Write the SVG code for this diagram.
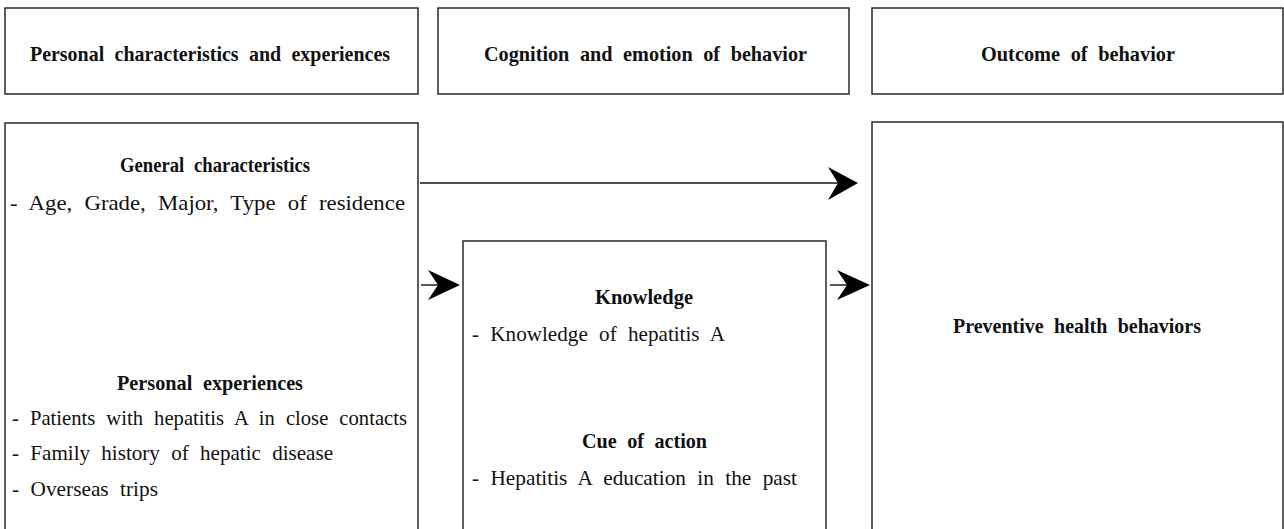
<svg xmlns="http://www.w3.org/2000/svg" width="1284" height="529" viewBox="0 0 1284 529">
<style>
.box{fill:#fff;stroke:#1a1a1a;stroke-width:1.4}
.h{font-family:"Liberation Serif","Times New Roman",Tinos,serif;font-weight:bold;font-size:22px;fill:#111;word-spacing:6px}
.t{font-family:"Liberation Serif","Times New Roman",Tinos,serif;font-size:21px;fill:#111;word-spacing:6px}
.ln{stroke:#111;stroke-width:1.4;fill:none}
.ah{fill:#000;stroke:none}
</style>
<rect width="1284" height="529" fill="#fff"/>
<g id="header-personal">
<rect class="box" x="5" y="8" width="413" height="86"/>
<text class="h" x="30" y="61" textLength="360" lengthAdjust="spacingAndGlyphs">Personal characteristics and experiences</text>
</g>
<g id="header-cognition">
<rect class="box" x="438" y="8" width="411" height="86"/>
<text class="h" x="484" y="61" textLength="323" lengthAdjust="spacingAndGlyphs">Cognition and emotion of behavior</text>
</g>
<g id="header-outcome">
<rect class="box" x="872" y="8" width="411" height="86"/>
<text class="h" x="981" y="61" textLength="194" lengthAdjust="spacingAndGlyphs">Outcome of behavior</text>
</g>
<g id="personal">
<rect class="box" x="5" y="123" width="413" height="420"/>
<text class="h" x="120" y="172" textLength="190" lengthAdjust="spacingAndGlyphs">General characteristics</text>
<text class="t" x="10" y="210" textLength="395" lengthAdjust="spacingAndGlyphs">- Age, Grade, Major, Type of residence</text>
<text class="h" x="117" y="390" textLength="186" lengthAdjust="spacingAndGlyphs">Personal experiences</text>
<text class="t" x="12" y="425" textLength="395" lengthAdjust="spacingAndGlyphs">- Patients with hepatitis A in close contacts</text>
<text class="t" x="12" y="460" textLength="321" lengthAdjust="spacingAndGlyphs">- Family history of hepatic disease</text>
<text class="t" x="12" y="496" textLength="146" lengthAdjust="spacingAndGlyphs">- Overseas trips</text>
</g>
<g id="cognition">
<rect class="box" x="463" y="241" width="363" height="300"/>
<text class="h" x="595" y="304" textLength="98" lengthAdjust="spacingAndGlyphs">Knowledge</text>
<text class="t" x="472" y="341" textLength="253" lengthAdjust="spacingAndGlyphs">- Knowledge of hepatitis A</text>
<text class="h" x="582" y="448" textLength="125" lengthAdjust="spacingAndGlyphs">Cue of action</text>
<text class="t" x="472" y="485" textLength="325" lengthAdjust="spacingAndGlyphs">- Hepatitis A education in the past</text>
</g>
<g id="outcome">
<rect class="box" x="872" y="122" width="411" height="420"/>
<text class="h" x="953" y="333" textLength="248" lengthAdjust="spacingAndGlyphs">Preventive health behaviors</text>
</g>
<g id="connectors">
<line class="ln" x1="420" y1="183" x2="845" y2="183"/>
<path class="ah" d="M858,183 L828,167 L838,183 L828,200 Z"/>
<line class="ln" x1="421" y1="285" x2="450" y2="285"/>
<path class="ah" d="M460,285 L428,270 L438,285 L428,300 Z"/>
<line class="ln" x1="830" y1="285" x2="860" y2="285"/>
<path class="ah" d="M870,285 L837,270 L847,285 L837,300 Z"/>
</g>
</svg>
